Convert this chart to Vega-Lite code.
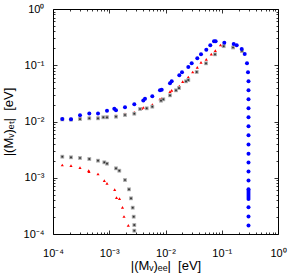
{
 "$schema": "https://vega.github.io/schema/vega-lite/v6.json",
 "width": 225, "height": 225,
 "autosize": "none",
 "padding": {"left": 53, "top": 9, "right": 11, "bottom": 41},
 "background": "white",
 "config": {
  "view": {"stroke": "black", "strokeWidth": 1},
  "axis": {"labelFont": "Liberation Sans", "titleFont": "Liberation Sans", "labelFontSize": 11, "titleFontSize": 13, "titleFontWeight": "normal", "tickColor": "black", "labelColor": "black", "titleColor": "black", "grid": false, "domain": false, "tickWidth": 0.8, "labelOverlap": false, "labelFlush": false}
 },
 "datasets": {
  "blue": [
   {"x":0.0001463,"y":0.01107},{"x":0.0002089,"y":0.01094},{"x":0.000302,"y":0.01289},{"x":0.0004417,"y":0.01388},{"x":0.000631,"y":0.01388},{"x":0.000912,"y":0.01556},{"x":0.001229,"y":0.01689},{"x":0.001318,"y":0.01581},{"x":0.001905,"y":0.01788},{"x":0.002788,"y":0.02022},{"x":0.00403,"y":0.02362},{"x":0.00432,"y":0.02543},{"x":0.005825,"y":0.02805},{"x":0.00798,"y":0.03587},{"x":0.00856,"y":0.03675},{"x":0.01202,"y":0.04776},{"x":0.01289,"y":0.05183},{"x":0.01759,"y":0.06629},{"x":0.01965,"y":0.07493},{"x":0.02543,"y":0.09309},{"x":0.02922,"y":0.1083},{"x":0.03675,"y":0.1329},{"x":0.04278,"y":0.1566},{"x":0.05312,"y":0.189},{"x":0.06257,"y":0.2263},{"x":0.07282,"y":0.2665},{"x":0.07786,"y":0.2665},{"x":0.111,"y":0.2518},{"x":0.1631,"y":0.2386},{"x":0.1845,"y":0.2263},{"x":0.2263,"y":0.1945},{"x":0.2559,"y":0.1585},{"x":0.2811,"y":0.1083},{"x":0.2928,"y":0.07493},
   {"x":0.299,"y":0.0518},{"x":0.299,"y":0.0359},{"x":0.299,"y":0.0248},{"x":0.299,"y":0.0172},{"x":0.299,"y":0.0119},{"x":0.299,"y":0.00822},{"x":0.299,"y":0.00569},{"x":0.299,"y":0.0039},{"x":0.299,"y":0.00268},{"x":0.299,"y":0.00187},{"x":0.299,"y":0.00129},{"x":0.299,"y":0.000893},{"x":0.299,"y":0.000623},{"x":0.299,"y":0.000581},{"x":0.299,"y":0.000536},{"x":0.299,"y":0.000494},{"x":0.299,"y":0.000455},{"x":0.299,"y":0.000419},{"x":0.299,"y":0.000298},{"x":0.299,"y":0.000205},{"x":0.299,"y":0.000142}
  ],
  "red_upper": [
   {"x":0.0001463,"y":0.0113},{"x":0.0002089,"y":0.0112},{"x":0.000302,"y":0.01188},{"x":0.0004417,"y":0.01178},{"x":0.000631,"y":0.01188},{"x":0.000912,"y":0.01237},{"x":0.001318,"y":0.01268},{"x":0.001905,"y":0.0136},{"x":0.002788,"y":0.01458},{"x":0.003775,"y":0.01717},{"x":0.00403,"y":0.01774},{"x":0.005825,"y":0.01989},{"x":0.00798,"y":0.02512},{"x":0.00856,"y":0.02543},{"x":0.01202,"y":0.03387},{"x":0.01289,"y":0.03587},{"x":0.01759,"y":0.04277},{"x":0.02022,"y":0.05099},{"x":0.02543,"y":0.06183},{"x":0.03046,"y":0.07586},{"x":0.03675,"y":0.09195},{"x":0.04278,"y":0.1128},{"x":0.05312,"y":0.1276},{"x":0.06521,"y":0.1572},{"x":0.07679,"y":0.1814},{"x":0.09502,"y":0.2291},{"x":0.1052,"y":0.2226},{"x":0.1618,"y":0.2068},{"x":0.2263,"y":0.1792}
  ],
  "gray_upper": [
   {"x":0.0001463,"y":0.0109},{"x":0.0002089,"y":0.0108},{"x":0.000302,"y":0.01107},{"x":0.0004417,"y":0.0114},{"x":0.000631,"y":0.0114},{"x":0.000784,"y":0.01188},{"x":0.000912,"y":0.01188},{"x":0.001318,"y":0.01217},{"x":0.001905,"y":0.01305},{"x":0.002788,"y":0.01376},{"x":0.003522,"y":0.01668},{"x":0.004632,"y":0.01717},{"x":0.005825,"y":0.01833},{"x":0.008318,"y":0.02343},{"x":0.00914,"y":0.0248},{"x":0.01202,"y":0.02922},{"x":0.01537,"y":0.03587},{"x":0.01738,"y":0.03939},{"x":0.02314,"y":0.05183},{"x":0.02543,"y":0.05467},{"x":0.03587,"y":0.07586},{"x":0.05248,"y":0.1083},{"x":0.07586,"y":0.1566},{"x":0.1083,"y":0.2182},{"x":0.1585,"y":0.2068},{"x":0.2291,"y":0.1792}
  ],
  "red_lower": [
   {"x":0.0001463,"y":0.001685},{"x":0.0002089,"y":0.001637},{"x":0.000302,"y":0.001509},{"x":0.000431,"y":0.001334},{"x":0.0004365,"y":0.001281},{"x":0.000631,"y":0.001166},{"x":0.000817,"y":0.000886},{"x":0.000912,"y":0.000796},{"x":0.00125,"y":0.000618},{"x":0.001345,"y":0.0004417},{"x":0.001522,"y":0.0004275},{"x":0.00172,"y":0.000298},{"x":0.001829,"y":0.0002047},{"x":0.002182,"y":0.0001428}
  ],
  "gray_lower": [
   {"x":0.0001463,"y":0.002367},{"x":0.0002089,"y":0.00231},{"x":0.000302,"y":0.002245},{"x":0.0004417,"y":0.002154},{"x":0.000631,"y":0.00201},{"x":0.000817,"y":0.001882},{"x":0.000912,"y":0.001777},{"x":0.001318,"y":0.001472},{"x":0.001509,"y":0.001334},{"x":0.001905,"y":0.000912},{"x":0.002245,"y":0.000623},{"x":0.002436,"y":0.000431},{"x":0.002612,"y":0.0002935},{"x":0.00272,"y":0.000203},{"x":0.002788,"y":0.0001445},{"x":0.002788,"y":0.0001145}
  ]
 },
 "resolve": {"axis": {"x": "independent", "y": "independent"}},
 "layer": [
  {
   "data": {"name": "red_lower"},
   "mark": {"type": "point", "shape": "triangle-up", "filled": true, "color": "#ff0000", "size": 10, "opacity": 1},
   "encoding": {
    "x": {"field": "x", "type": "quantitative", "scale": {"type": "log", "domain": [0.0001, 1]},
      "axis": {"orient": "bottom", "values": [0.0002,0.0003,0.0004,0.0005,0.0006,0.0007,0.0008,0.0009,0.002,0.003,0.004,0.005,0.006,0.007,0.008,0.009,0.02,0.03,0.04,0.05,0.06,0.07,0.08,0.09,0.2,0.3,0.4,0.5,0.6,0.7,0.8,0.9], "tickSize": -2, "labels": false, "title": null}},
    "y": {"field": "y", "type": "quantitative", "scale": {"type": "log", "domain": [0.0001, 1]},
      "axis": {"orient": "left", "values": [0.0002,0.0003,0.0004,0.0005,0.0006,0.0007,0.0008,0.0009,0.002,0.003,0.004,0.005,0.006,0.007,0.008,0.009,0.02,0.03,0.04,0.05,0.06,0.07,0.08,0.09,0.2,0.3,0.4,0.5,0.6,0.7,0.8,0.9], "tickSize": -2, "labels": false, "title": null}}
   }
  },
  {
   "data": {"name": "red_upper"},
   "mark": {"type": "point", "shape": "triangle-up", "filled": true, "color": "#ff0000", "size": 10, "opacity": 1},
   "encoding": {
    "x": {"field": "x", "type": "quantitative", "scale": {"type": "log", "domain": [0.0001, 1]},
      "axis": {"orient": "top", "values": [0.0001,0.001,0.01,0.1,1], "tickSize": -4, "labels": false, "title": null}},
    "y": {"field": "y", "type": "quantitative", "scale": {"type": "log", "domain": [0.0001, 1]},
      "axis": {"orient": "right", "values": [0.0001,0.001,0.01,0.1,1], "tickSize": -4, "labels": false, "title": null}}
   }
  },
  {
   "data": {"name": "gray_upper"},
   "mark": {"type": "point", "shape": "square", "filled": true, "color": "#a8a8a8", "size": 14, "opacity": 1},
   "encoding": {
    "x": {"field": "x", "type": "quantitative", "scale": {"type": "log", "domain": [0.0001, 1]},
      "axis": {"orient": "top", "values": [0.0002,0.0003,0.0004,0.0005,0.0006,0.0007,0.0008,0.0009,0.002,0.003,0.004,0.005,0.006,0.007,0.008,0.009,0.02,0.03,0.04,0.05,0.06,0.07,0.08,0.09,0.2,0.3,0.4,0.5,0.6,0.7,0.8,0.9], "tickSize": -2, "labels": false, "title": null}},
    "y": {"field": "y", "type": "quantitative", "scale": {"type": "log", "domain": [0.0001, 1]},
      "axis": {"orient": "right", "values": [0.0002,0.0003,0.0004,0.0005,0.0006,0.0007,0.0008,0.0009,0.002,0.003,0.004,0.005,0.006,0.007,0.008,0.009,0.02,0.03,0.04,0.05,0.06,0.07,0.08,0.09,0.2,0.3,0.4,0.5,0.6,0.7,0.8,0.9], "tickSize": -2, "labels": false, "title": null}}
   }
  },
  {
   "data": {"name": "gray_upper"},
   "mark": {"type": "point", "shape": "square", "filled": true, "color": "#303030", "size": 3, "opacity": 1},
   "encoding": {
    "x": {"field": "x", "type": "quantitative", "scale": {"type": "log", "domain": [0.0001, 1]}, "axis": null},
    "y": {"field": "y", "type": "quantitative", "scale": {"type": "log", "domain": [0.0001, 1]}, "axis": null}
   }
  },
  {
   "data": {"name": "gray_lower"},
   "mark": {"type": "point", "shape": "square", "filled": true, "color": "#a8a8a8", "size": 14, "opacity": 1},
   "encoding": {
    "x": {"field": "x", "type": "quantitative", "scale": {"type": "log", "domain": [0.0001, 1]}, "axis": null},
    "y": {"field": "y", "type": "quantitative", "scale": {"type": "log", "domain": [0.0001, 1]}, "axis": null}
   }
  },
  {
   "data": {"name": "gray_lower"},
   "mark": {"type": "point", "shape": "square", "filled": true, "color": "#303030", "size": 3, "opacity": 1},
   "encoding": {
    "x": {"field": "x", "type": "quantitative", "scale": {"type": "log", "domain": [0.0001, 1]}, "axis": null},
    "y": {"field": "y", "type": "quantitative", "scale": {"type": "log", "domain": [0.0001, 1]}, "axis": null}
   }
  },
  {
   "data": {"name": "blue"},
   "mark": {"type": "point", "shape": "circle", "filled": true, "color": "#0000ff", "size": 16, "opacity": 1},
   "encoding": {
    "x": {"field": "x", "type": "quantitative", "scale": {"type": "log", "domain": [0.0001, 1]},
      "axis": {"orient": "bottom", "values": [0.0001,0.001,0.01,0.1,1], "tickSize": -4, "labelPadding": 17,
        "labelExpr": "datum.value < 0.0005 ? '10⁻⁴' : datum.value < 0.005 ? '10⁻³' : datum.value < 0.05 ? '10⁻²' : datum.value < 0.5 ? '10⁻¹' : '10⁰'",
        "title": "|(Mᵥ)ₑₑ|\u00a0\u00a0[eV]", "titlePadding": 1}},
    "y": {"field": "y", "type": "quantitative", "scale": {"type": "log", "domain": [0.0001, 1]},
      "axis": {"orient": "left", "values": [0.0001,0.001,0.01,0.1,1], "tickSize": -4, "labelPadding": 13,
        "labelExpr": "datum.value < 0.0005 ? '10⁻⁴' : datum.value < 0.005 ? '10⁻³' : datum.value < 0.05 ? '10⁻²' : datum.value < 0.5 ? '10⁻¹' : '10⁰'",
        "title": "|(Mᵥ)ₑₜ|\u00a0\u00a0[eV]", "titlePadding": 8}}
   }
  }
 ]
}
